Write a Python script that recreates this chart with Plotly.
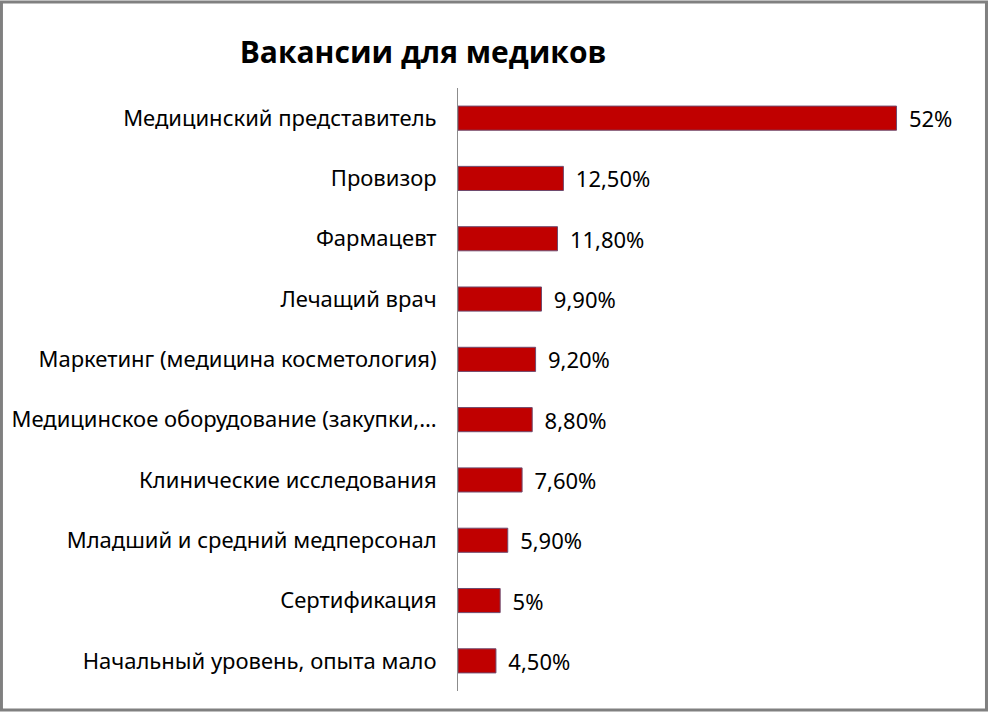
import plotly.graph_objects as go

categories = [
    "Медицинский представитель",
    "Провизор",
    "Фармацевт",
    "Лечащий врач",
    "Маркетинг (медицина косметология)",
    "Медицинское оборудование (закупки,…",
    "Клинические исследования",
    "Младший и средний медперсонал",
    "Сертификация",
    "Начальный уровень, опыта мало",
]
values = [52, 12.5, 11.8, 9.9, 9.2, 8.8, 7.6, 5.9, 5, 4.5]
value_labels = ["52%", "12,50%", "11,80%", "9,90%", "9,20%", "8,80%", "7,60%", "5,90%", "5%", "4,50%"]

W, H = 990, 713
L, R, T, B = 458, 25.5, 88, 22
pw, ph = W - L - R, H - T - B

fig = go.Figure(go.Bar(
    x=values, y=categories, orientation="h",
    text=["\u00a0\u2009" + s for s in value_labels],
    textposition="outside", cliponaxis=False, constraintext="none",
    textfont=dict(size=22, color="#000000", family="Noto Sans"),
    marker=dict(color="#C00000", line=dict(color="#6E4A6E", width=1)),
    width=0.4, hoverinfo="skip",
))

# frame around the whole chart (paper coords relative to plot area)
def px_x(p):
    return (p - L) / pw

def px_y(p):
    return (H - B - p) / ph

fig.add_shape(type="rect", xref="paper", yref="paper",
              x0=px_x(1), x1=px_x(987), y0=px_y(710), y1=px_y(2),
              line=dict(color="#808080", width=3), fillcolor="rgba(0,0,0,0)")

fig.update_layout(
    width=W, height=H,
    margin=dict(l=L, r=R, t=T, b=B),
    paper_bgcolor="white", plot_bgcolor="white",
    font=dict(family="Noto Sans", size=22, color="#000000"),
    title=dict(text="<b>Вакансии для медиков</b>", x=423 / W, xanchor="center",
               xref="container", y=1 - 52 / H, yanchor="middle",
               font=dict(size=30, family="Open Sans", color="#000000")),
    showlegend=False,
    bargap=0.6,
)
fig.update_xaxes(range=[0, 60], visible=False, showgrid=False, zeroline=False)
fig.update_yaxes(autorange="reversed", showline=True, linecolor="#8C8C8C", linewidth=1,
                 ticks="", showgrid=False, ticklabelstandoff=16,
                 tickfont=dict(size=22, family="Noto Sans"))

fig.write_html("out.html", config={"displayModeBar": False},
               post_script="document.body.style.margin='0';")
